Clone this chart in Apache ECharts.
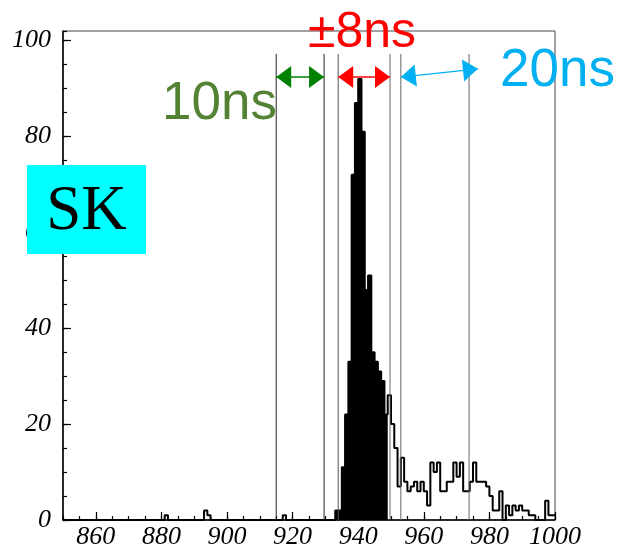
<!DOCTYPE html>
<html>
<head>
<meta charset="utf-8">
<script src="https://cdn.jsdelivr.net/npm/echarts@6/dist/echarts.min.js"></script>
<style>
  html, body { margin: 0; padding: 0; background: #ffffff; }
  #chart { width: 617px; height: 551px; }
</style>
</head>
<body>
<div id="chart"></div>
<script>
// Hit-time histogram: 1 ns bins from 850 ns to 1000 ns
const binStart = 850;
const binWidth = 1;
const counts = [
  0, 0, 0, 0, 0, 0, 0, 0, 0, 0,       // 850
  0, 0, 0, 0, 0, 0, 0, 0, 0, 0,       // 860
  0, 0, 0, 0, 0, 0, 0, 0, 0, 0,       // 870
  0, 1, 0, 0, 0, 0, 0, 0, 0, 0,       // 880
  0, 0, 0, 2, 1, 0, 0, 0, 0, 0,       // 890
  0, 0, 0, 0, 0, 0, 0, 0, 0, 0,       // 900
  0, 0, 0, 0, 0, 0, 0, 1, 0, 0,       // 910
  0, 0, 0, 0, 0, 0, 0, 0, 0, 0,       // 920
  0, 0, 0, 2, 2, 11, 22, 33, 72, 87,  // 930
  92, 81, 48, 51, 35, 33, 31, 29, 22, 26, // 940
  20, 15, 7, 13, 8, 6, 7, 8, 6, 8,    // 950
  6, 3, 12, 10, 12, 6, 6, 8, 8, 12,   // 960
  9, 12, 6, 6, 8, 12, 8, 8, 8, 7,     // 970
  5, 2, 2, 6, 0, 3, 1, 3, 2, 3,       // 980
  2, 2, 1, 1, 0, 0, 0, 4, 1, 1        // 990
];
// Bins shaded as the in-window selection [start, end)
const fillRange = [933, 949];

// Time-window boundaries (ns) and their common top (counts)
const windowLines = [915.0, 929.6, 933.9, 949.7, 953.0, 973.8];
const windowLineTop = 97.2;

// Double-headed arrows: [x1, y1, x2, y2] in axis units
const arrowGreen = [915.0, 92.4, 929.6, 92.4];
const arrowRed = [933.9, 92.4, 949.7, 92.4];
const arrowCyan = [953.0, 92.4, 976.5, 94.1];

// Axis ranges and labelled ticks
const xRange = [850, 1000];
const yRange = [0, 102];
const xMajorTicks = [860, 880, 900, 920, 940, 960, 980, 1000];
const yMajorTicks = [0, 20, 40, 60, 80, 100];

// ---- styling ----
const GREEN = '#008000';
const GREEN_TEXT = '#548235';
const RED = '#ff0000';
const CYAN = '#00b0f0';
const lineShades = ['#222222', '#222222', '#555555', '#666666', '#666666', '#666666'];
const labelFont = 'Liberation Serif';

// Outline points for a step line: each bin's left edge, closed at the last right edge
const outlineData = counts.map((c, i) => [binStart + i * binWidth, c]);
outlineData.push([binStart + counts.length * binWidth, counts[counts.length - 1]]);

const fillData = [];
for (let i = 0; i < counts.length; i++) {
  const x = binStart + i * binWidth;
  if (x >= fillRange[0] && x < fillRange[1]) fillData.push([x, counts[i]]);
}
fillData.push([fillRange[1], fillData[fillData.length - 1][1]]);

function renderArrow(params, api) {
  const p1 = api.coord([api.value(0), api.value(1)]);
  const p2 = api.coord([api.value(2), api.value(3)]);
  const color = api.visual('color');
  const dx = p2[0] - p1[0], dy = p2[1] - p1[1];
  const len = Math.sqrt(dx * dx + dy * dy);
  const ux = dx / len, uy = dy / len;
  const nx = -uy, ny = ux;
  const L = 15, W = 11;
  function head(tip, dir) {
    const bx = tip[0] - dir * ux * L, by = tip[1] - dir * uy * L;
    return {
      type: 'polygon',
      shape: { points: [tip, [bx + nx * W, by + ny * W], [bx - nx * W, by - ny * W]] },
      style: { fill: color }
    };
  }
  return {
    type: 'group',
    children: [
      { type: 'line', shape: { x1: p1[0], y1: p1[1], x2: p2[0], y2: p2[1] },
        style: { stroke: color, lineWidth: 1.3 } },
      head(p1, -1),
      head(p2, 1)
    ]
  };
}

function renderWindowLine(params, api) {
  const bottom = api.coord([api.value(0), 0]);
  const top = api.coord([api.value(0), api.value(1)]);
  return {
    type: 'line',
    shape: { x1: bottom[0], y1: bottom[1], x2: top[0], y2: top[1] },
    style: { stroke: lineShades[params.dataIndex], lineWidth: 1 }
  };
}

const chart = echarts.init(document.getElementById('chart'), null, { renderer: 'canvas' });

const tickLabel = {
  color: '#000',
  fontFamily: labelFont,
  fontStyle: 'italic',
  fontSize: 26,
  formatter: v => String(v)
};

chart.setOption({
  animation: false,
  backgroundColor: '#ffffff',
  grid: {
    left: 63, right: 62, top: 31, bottom: 31,
    show: true, borderColor: '#444', borderWidth: 1, backgroundColor: 'transparent'
  },
  xAxis: [
    {
      type: 'value', min: xRange[0], max: xRange[1], interval: 5,
      axisLine: { show: true, lineStyle: { color: '#000', width: 1.5 } },
      axisTick: { show: true, inside: true, length: 4, lineStyle: { color: '#000', width: 1.2 } },
      axisLabel: { show: false },
      splitLine: { show: false }
    },
    {
      type: 'value', min: xRange[0], max: xRange[1], position: 'bottom',
      axisLine: { show: false },
      axisTick: { show: true, inside: true, length: 8, customValues: xMajorTicks,
                  lineStyle: { color: '#000', width: 1.2 } },
      axisLabel: Object.assign({ customValues: xMajorTicks, margin: 4 }, tickLabel),
      splitLine: { show: false }
    }
  ],
  yAxis: [
    {
      type: 'value', min: yRange[0], max: yRange[1], interval: 5, position: 'left',
      axisLine: { show: true, lineStyle: { color: '#000', width: 1.5 } },
      axisTick: { show: true, inside: true, length: 4, lineStyle: { color: '#000', width: 1.2 } },
      axisLabel: { show: false },
      splitLine: { show: false }
    },
    {
      type: 'value', min: yRange[0], max: yRange[1], position: 'left',
      axisLine: { show: false },
      axisTick: { show: true, inside: true, length: 8, customValues: yMajorTicks,
                  lineStyle: { color: '#000', width: 1.2 } },
      axisLabel: Object.assign({ customValues: yMajorTicks, margin: 12 }, tickLabel),
      splitLine: { show: false }
    }
  ],
  series: [
    {
      name: 'in window',
      type: 'line', step: 'end', xAxisIndex: 0, yAxisIndex: 0,
      data: fillData, symbol: 'none', silent: true, z: 2,
      lineStyle: { width: 0, color: '#000' },
      areaStyle: { color: '#000', opacity: 1 }
    },
    {
      name: 'all hits',
      type: 'line', step: 'end', xAxisIndex: 0, yAxisIndex: 0,
      data: outlineData, symbol: 'none', silent: true, z: 3,
      lineStyle: { width: 2, color: '#000' }
    },
    {
      name: 'windows',
      type: 'custom', xAxisIndex: 0, yAxisIndex: 0, silent: true, z: 4,
      renderItem: renderWindowLine,
      encode: { x: 0, y: 1 },
      data: windowLines.map(x => [x, windowLineTop]),
      clip: false
    },
    {
      name: 'arrows',
      type: 'custom', xAxisIndex: 0, yAxisIndex: 0, silent: true, z: 5,
      renderItem: renderArrow,
      encode: { x: [0, 2], y: [1, 3] },
      data: [
        { value: arrowGreen, itemStyle: { color: GREEN } },
        { value: arrowRed, itemStyle: { color: RED } },
        { value: arrowCyan, itemStyle: { color: CYAN } }
      ],
      clip: false
    }
  ],
  graphic: [
    {
      type: 'text', x: 277, y: 104, z: 50,
      style: { text: '10ns', fill: GREEN_TEXT, font: '53px "Liberation Sans"',
               align: 'right', verticalAlign: 'middle' }
    },
    {
      type: 'text', x: 362, y: 33, z: 50,
      style: { text: '±8ns', fill: RED, font: '50px "Liberation Sans"',
               align: 'center', verticalAlign: 'middle' }
    },
    {
      type: 'text', x: 500, y: 71, z: 50,
      style: { text: '20ns', fill: CYAN, font: '53px "Liberation Sans"',
               align: 'left', verticalAlign: 'middle' }
    },
    {
      type: 'rect', x: 27, y: 165, z: 100,
      shape: { x: 0, y: 0, width: 119, height: 89 },
      style: { fill: '#00ffff' }
    },
    {
      type: 'text', x: 86.5, y: 212, z: 101,
      style: { text: 'SK', fill: '#000', font: '63px "Liberation Serif"',
               align: 'center', verticalAlign: 'middle' }
    }
  ]
});
</script>
</body>
</html>
